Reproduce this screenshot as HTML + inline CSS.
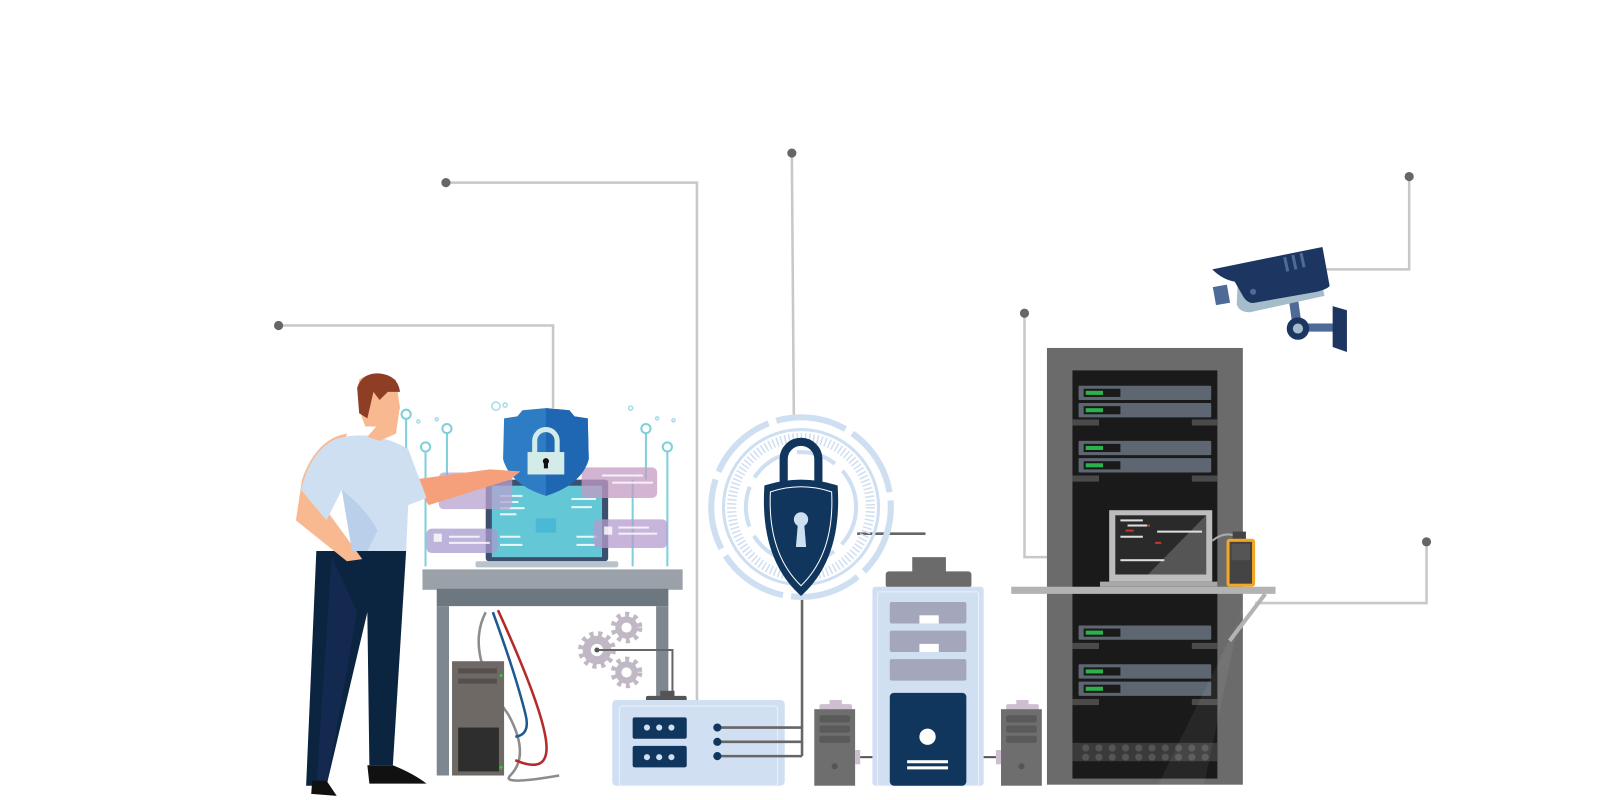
<!DOCTYPE html>
<html><head><meta charset="utf-8"><style>html,body{margin:0;padding:0;background:#fff}svg{display:block}</style></head>
<body>
<svg width="1600" height="800" viewBox="0 0 1568 784" xmlns="http://www.w3.org/2000/svg">
<!-- connector lines -->
<g stroke="#c8c8c8" stroke-width="2.5" fill="none">
<polyline points="273,319 542,319 542,400"/>
<polyline points="437,179 683,179 683,690"/>
<polyline points="776,150 778,412"/>
<polyline points="1004,307 1004,546 1026,546"/>
<polyline points="1381,173 1381,264 1298,264"/>
<polyline points="1398,531 1398,591 1230,591"/>
</g>
<g fill="#666"><circle cx="273" cy="319" r="4.5"/><circle cx="437" cy="179" r="4.5"/><circle cx="776" cy="150" r="4.5"/><circle cx="1004" cy="307" r="4.5"/><circle cx="1381" cy="173" r="4.5"/><circle cx="1398" cy="531" r="4.5"/></g>

<!-- circuit deco -->
<g stroke="#7fd0dc" stroke-width="2" fill="none">
<circle cx="398" cy="406" r="4.5"/><circle cx="417" cy="438" r="4.5"/><circle cx="438" cy="420" r="4.5"/>
<circle cx="633" cy="420" r="4.5"/><circle cx="654" cy="438" r="4.5"/>
<line x1="398" y1="411" x2="398" y2="470"/><line x1="438" y1="425" x2="438" y2="470"/><line x1="633" y1="425" x2="633" y2="470"/><line x1="654" y1="443" x2="654" y2="555"/>
<polyline points="417,443 417,555"/><polyline points="620,470 620,555"/>
</g>
<g fill="none" stroke="#a7dce6" stroke-width="1.5"><circle cx="486" cy="398" r="4"/><circle cx="495" cy="397" r="2"/><circle cx="618" cy="400" r="2"/><circle cx="410" cy="413" r="1.5"/><circle cx="428" cy="411" r="1.5"/><circle cx="644" cy="410" r="1.5"/><circle cx="660" cy="412" r="1.5"/></g>

<!-- laptop -->
<rect x="476" y="470" width="120" height="80" rx="3" fill="#3d4f6e"/>
<rect x="482" y="476" width="108" height="70" fill="#63c7d6"/>
<g fill="#e9f7fa"><rect x="490" y="485" width="22" height="2"/><rect x="490" y="491" width="18" height="2"/><rect x="490" y="497" width="24" height="2"/><rect x="490" y="503" width="16" height="2"/><rect x="490" y="525" width="20" height="2"/><rect x="490" y="533" width="22" height="2"/><rect x="560" y="488" width="24" height="2"/><rect x="560" y="496" width="20" height="2"/><rect x="565" y="525" width="20" height="2"/><rect x="565" y="533" width="18" height="2"/></g>
<rect x="525" y="508" width="20" height="14" fill="#4bb8d6"/>
<rect x="466" y="550" width="140" height="6" rx="2" fill="#b9c3cc"/>
<!-- purple cards -->
<g opacity="0.75"><rect x="430" y="463" width="72" height="36" rx="5" fill="#b7a2cf"/><rect x="418" y="518" width="70" height="24" rx="5" fill="#a99bd0"/><rect x="570" y="458" width="74" height="30" rx="5" fill="#c49cc4"/><rect x="582" y="509" width="72" height="28" rx="5" fill="#b59ccf"/></g>
<g fill="#fff" opacity="0.8"><rect x="425" y="523" width="8" height="8"/><rect x="440" y="525" width="30" height="2"/><rect x="440" y="531" width="40" height="2"/><rect x="590" y="465" width="40" height="2"/><rect x="600" y="472" width="40" height="2"/><rect x="592" y="516" width="8" height="8"/><rect x="606" y="516" width="30" height="2"/><rect x="606" y="522" width="38" height="2"/></g>
<!-- shield -->
<path d="M535,400 L558,402 L563,408 L576,410 L577,450 Q570,475 535,486 Q500,475 493,450 L494,410 L507,408 L512,402 Z" fill="#2d7cc4"/>
<path d="M535,400 L558,402 L563,408 L576,410 L577,450 Q570,475 535,486 Z" fill="#1f67b2"/>
<path d="M524,446 V432 a11,11 0 0 1 22,0 V446" fill="none" stroke="#d3ece9" stroke-width="5"/>
<rect x="517" y="443" width="36" height="22" fill="#d3ece9"/>
<circle cx="535" cy="452" r="3" fill="#111"/><rect x="533" y="452" width="4" height="7" fill="#111"/>

<!-- table -->
<rect x="414" y="558" width="255" height="20" fill="#9aa1a8"/>
<rect x="428" y="577" width="227" height="17" fill="#6d7780"/>
<rect x="428" y="594" width="12" height="166" fill="#7e878f"/>
<rect x="643" y="594" width="12" height="90" fill="#7e878f"/>
<!-- cables -->
<path d="M476,600 Q455,640 498,700 Q520,740 500,760 Q490,770 548,760" fill="none" stroke="#8c8c8c" stroke-width="2.5"/>
<path d="M483,600 Q505,660 515,700 Q520,720 505,722" fill="none" stroke="#1d5a92" stroke-width="2.5"/>
<path d="M488,598 Q530,690 535,725 Q540,760 505,745" fill="none" stroke="#b52a2a" stroke-width="2.5"/>
<!-- pc tower -->
<rect x="443" y="648" width="51" height="112" fill="#6e6965"/>
<rect x="449" y="655" width="38" height="5" fill="#55504d"/><rect x="449" y="665" width="38" height="5" fill="#55504d"/>
<rect x="449" y="713" width="40" height="43" fill="#2e2e2e"/>
<circle cx="491" cy="662" r="1.5" fill="#3c3"/><circle cx="491" cy="752" r="1.5" fill="#3c3"/>

<!-- person -->
<path d="M310,540 L300,770 L320,770 L360,600 L362,750 L385,750 L398,540 Z" fill="#0b2440"/>
<path d="M325,545 L310,770 L320,770 L350,600 Z" fill="#13294f"/>
<path d="M360,750 L362,768 L418,768 Q405,758 385,750 Z" fill="#111"/>
<path d="M306,765 L305,778 L330,780 L320,765 Z" fill="#111"/>
<path d="M340,425 Q310,430 296,470 L290,510 L340,550 L355,548 L320,500 L330,470 Z" fill="#f8b990"/>
<path d="M405,470 L480,460 L510,462 L500,470 L420,495 Z" fill="#f5a07a"/>
<path d="M330,430 Q365,420 400,440 L418,488 L400,495 L398,540 L345,540 L335,480 L320,510 L295,480 Q305,440 330,430 Z" fill="#cfdff2"/>
<path d="M335,480 Q360,500 370,520 L360,540 L345,540 Z" fill="#b9cfea"/>
<path d="M380,405 L392,398 L388,425 L372,432 L360,428 Z" fill="#f8b990"/>
<path d="M352,372 Q365,362 388,372 L392,400 L385,418 L358,418 Q348,395 352,372 Z" fill="#f8b990"/>
<path d="M350,380 Q355,365 372,366 Q390,368 392,384 L380,384 L372,392 L366,384 L360,410 L352,405 Z" fill="#8e3e24"/>

<!-- gears -->
<g fill="#c0b8c4">
<circle cx="585" cy="637" r="14"/><circle cx="614" cy="615" r="11"/><circle cx="614" cy="659" r="11"/>
</g>
<g stroke="#c0b8c4" stroke-width="5" stroke-dasharray="4 4.5"><circle cx="585" cy="637" r="16" fill="none"/><circle cx="614" cy="615" r="13" fill="none"/><circle cx="614" cy="659" r="13" fill="none"/></g>
<g fill="#fff"><circle cx="585" cy="637" r="6"/><circle cx="614" cy="615" r="5"/><circle cx="614" cy="659" r="5"/></g>
<polyline points="585,637 659,637 659,682" fill="none" stroke="#666" stroke-width="2"/>
<circle cx="585" cy="637" r="2.5" fill="#555"/>
<rect x="647" y="677" width="14" height="6" fill="#555"/><rect x="633" y="682" width="40" height="5" rx="2" fill="#555"/>

<!-- device box -->
<rect x="600" y="686" width="169" height="84" rx="4" fill="#d0dff2"/>
<rect x="607" y="692" width="155" height="78" rx="3" fill="none" stroke="#eaf1fb" stroke-width="1"/>
<rect x="620" y="703" width="53" height="21" rx="2" fill="#11365e"/><rect x="620" y="731" width="53" height="21" rx="2" fill="#11365e"/>
<g fill="#d0dff2"><circle cx="634" cy="713" r="3"/><circle cx="646" cy="713" r="3"/><circle cx="658" cy="713" r="3"/><circle cx="634" cy="742" r="3"/><circle cx="646" cy="742" r="3"/><circle cx="658" cy="742" r="3"/></g>
<g stroke="#666" stroke-width="2.5" fill="none"><line x1="703" y1="713" x2="786" y2="713"/><line x1="703" y1="727" x2="786" y2="727"/><line x1="703" y1="741" x2="786" y2="741"/><line x1="786" y1="575" x2="786" y2="741"/>
<polyline points="840,523 907,523 Q910,523 910,530 L910,558"/></g>
<g fill="#11365e"><circle cx="703" cy="713" r="4"/><circle cx="703" cy="727" r="4"/><circle cx="703" cy="741" r="4"/></g>

<!-- lock rings -->
<g fill="none" stroke="#cfdff2">
<circle cx="785" cy="497" r="88" stroke-width="6" stroke-dasharray="70 8"/>
<circle cx="785" cy="497" r="76" stroke-width="3"/>
<circle cx="785" cy="497" r="68" stroke-width="9" stroke-dasharray="1.5 2.5"/>
<circle cx="785" cy="497" r="54" stroke-width="4" stroke-dasharray="40 10"/>
</g>
<path d="M768,478 V450 a17,17 0 0 1 34,0 V478" fill="none" stroke="#11365e" stroke-width="8"/>
<path d="M752,478 Q785,468 818,478 Q822,545 785,580 Q748,545 752,478 Z" fill="#11365e" stroke="#11365e" stroke-width="6"/>
<path d="M755,482 Q785,472 815,482 Q818,542 785,574 Q752,542 755,482 Z" fill="none" stroke="#fff" stroke-width="1"/>
<circle cx="785" cy="509" r="7" fill="#cfdff2"/><path d="M782,512 L788,512 L790,536 L780,536 Z" fill="#cfdff2"/>

<!-- main tower -->
<rect x="894" y="546" width="33" height="16" fill="#6b6b6b"/>
<rect x="868" y="560" width="84" height="16" rx="3" fill="#6b6b6b"/>
<rect x="855" y="575" width="109" height="195" rx="3" fill="#d0dff2"/>
<rect x="860" y="580" width="99" height="190" rx="2" fill="none" stroke="#eaf1fb"/>
<g fill="#a4a6bb"><rect x="872" y="590" width="75" height="21" rx="2"/><rect x="872" y="618" width="75" height="21" rx="2"/><rect x="872" y="646" width="75" height="21" rx="2"/></g>
<g fill="#fff"><rect x="901" y="603" width="19" height="8"/><rect x="901" y="631" width="19" height="8"/></g>
<rect x="872" y="679" width="75" height="91" rx="4" fill="#11365e"/>
<circle cx="909" cy="722" r="8" fill="#fff"/><rect x="889" y="745" width="40" height="3" fill="#fff"/><rect x="889" y="751" width="40" height="3" fill="#fff"/>
<!-- small towers -->
<g>
<rect x="813" y="686" width="12" height="6" fill="#cdbfcf"/><rect x="803" y="690" width="32" height="6" rx="2" fill="#cdbfcf"/>
<rect x="798" y="695" width="40" height="75" fill="#6e6e6e"/>
<rect x="803" y="701" width="30" height="7" rx="2" fill="#5a5a5a"/><rect x="803" y="711" width="30" height="7" rx="2" fill="#5a5a5a"/><rect x="803" y="721" width="30" height="7" rx="2" fill="#5a5a5a"/>
<circle cx="818" cy="751" r="3" fill="#555"/>
<rect x="838" y="735" width="5" height="14" fill="#cdbfcf"/><line x1="843" y1="742" x2="855" y2="742" stroke="#555" stroke-width="2"/>
<rect x="996" y="686" width="12" height="6" fill="#cdbfcf"/><rect x="986" y="690" width="32" height="6" rx="2" fill="#cdbfcf"/>
<rect x="981" y="695" width="40" height="75" fill="#6e6e6e"/>
<rect x="986" y="701" width="30" height="7" rx="2" fill="#5a5a5a"/><rect x="986" y="711" width="30" height="7" rx="2" fill="#5a5a5a"/><rect x="986" y="721" width="30" height="7" rx="2" fill="#5a5a5a"/>
<circle cx="1001" cy="751" r="3" fill="#555"/>
<rect x="976" y="735" width="5" height="14" fill="#cdbfcf"/><line x1="964" y1="742" x2="976" y2="742" stroke="#555" stroke-width="2"/>
</g>

<!-- rack -->
<rect x="1026" y="341" width="192" height="428" fill="#6b6b6b"/>
<rect x="1051" y="363" width="142" height="400" fill="#1b1a1a"/>
<rect x="1057" y="378" width="130" height="14" rx="1" fill="#5e6672"/><rect x="1062" y="381" width="36" height="8" fill="#1b1a1a"/><rect x="1064" y="383" width="17" height="4" fill="#2bb24c"/>
<g fill="#5e6672">
<rect x="1057" y="395" width="130" height="14" rx="1"/><rect x="1057" y="432" width="130" height="14" rx="1"/><rect x="1057" y="449" width="130" height="14" rx="1"/>
<rect x="1057" y="613" width="130" height="14" rx="1"/><rect x="1057" y="651" width="130" height="14" rx="1"/><rect x="1057" y="668" width="130" height="14" rx="1"/>
</g>
<g fill="#1b1a1a"><rect x="1062" y="398" width="36" height="8"/><rect x="1062" y="435" width="36" height="8"/><rect x="1062" y="452" width="36" height="8"/><rect x="1062" y="616" width="36" height="8"/><rect x="1062" y="654" width="36" height="8"/><rect x="1062" y="671" width="36" height="8"/></g>
<g fill="#2bb24c"><rect x="1064" y="400" width="17" height="4"/><rect x="1064" y="437" width="17" height="4"/><rect x="1064" y="454" width="17" height="4"/><rect x="1064" y="618" width="17" height="4"/><rect x="1064" y="656" width="17" height="4"/><rect x="1064" y="673" width="17" height="4"/></g>
<g fill="#4a4a4a"><rect x="1051" y="411" width="26" height="6"/><rect x="1168" y="411" width="25" height="6"/><rect x="1051" y="466" width="26" height="6"/><rect x="1168" y="466" width="25" height="6"/><rect x="1051" y="630" width="26" height="6"/><rect x="1168" y="630" width="25" height="6"/><rect x="1051" y="685" width="26" height="6"/><rect x="1168" y="685" width="25" height="6"/></g>
<rect x="1051" y="728" width="142" height="18" fill="#3a3a3a"/>
<g fill="#555"><circle cx="1064" cy="733" r="3.5"/><circle cx="1077" cy="733" r="3.5"/><circle cx="1090" cy="733" r="3.5"/><circle cx="1103" cy="733" r="3.5"/><circle cx="1116" cy="733" r="3.5"/><circle cx="1129" cy="733" r="3.5"/><circle cx="1142" cy="733" r="3.5"/><circle cx="1155" cy="733" r="3.5"/><circle cx="1168" cy="733" r="3.5"/><circle cx="1181" cy="733" r="3.5"/>
<circle cx="1064" cy="742" r="3.5"/><circle cx="1077" cy="742" r="3.5"/><circle cx="1090" cy="742" r="3.5"/><circle cx="1103" cy="742" r="3.5"/><circle cx="1116" cy="742" r="3.5"/><circle cx="1129" cy="742" r="3.5"/><circle cx="1142" cy="742" r="3.5"/><circle cx="1155" cy="742" r="3.5"/><circle cx="1168" cy="742" r="3.5"/><circle cx="1181" cy="742" r="3.5"/></g>
<path d="M1218,590 L1218,600 L1135,769 L1180,769 Z" fill="#fff" opacity="0.06"/>
<!-- laptop on shelf -->
<rect x="1087" y="500" width="101" height="70" fill="#bdbdbd"/>
<rect x="1093" y="505" width="89" height="58" fill="#2a2a2a"/>
<path d="M1182,505 L1182,563 L1125,563 Z" fill="#555"/>
<g fill="#ddd"><rect x="1098" y="509" width="22" height="2"/><rect x="1105" y="514" width="22" height="2"/><rect x="1134" y="520" width="44" height="2"/><rect x="1098" y="525" width="22" height="2"/><rect x="1098" y="548" width="43" height="2"/></g>
<g fill="#c0392b"><rect x="1124" y="514" width="3" height="2"/><rect x="1103" y="519" width="8" height="2"/><rect x="1132" y="531" width="6" height="2"/></g>
<rect x="1078" y="570" width="115" height="5" fill="#a8a8a8"/>
<path d="M1188,530 Q1200,520 1213,526" fill="none" stroke="#aaa" stroke-width="2"/>
<rect x="1208" y="521" width="13" height="8" fill="#444"/>
<rect x="1202" y="528" width="28" height="47" rx="3" fill="#f5a623"/>
<rect x="1205" y="531" width="22" height="41" fill="#444"/><rect x="1207" y="533" width="18" height="16" fill="#555"/>
<rect x="991" y="575" width="259" height="7" fill="#b3b3b3"/>
<line x1="1240" y1="582" x2="1205" y2="628" stroke="#b3b3b3" stroke-width="4"/>

<!-- camera -->
<rect x="1264" y="290" width="9" height="26" fill="#4e6b97" transform="rotate(-8 1268 300)"/>
<rect x="1275" y="317" width="32" height="8" fill="#4e6b97"/>
<path d="M1306,300 L1320,304 L1320,345 L1306,340 Z" fill="#1c3561"/>
<circle cx="1272" cy="322" r="11" fill="#1c3561"/><circle cx="1272" cy="322" r="5" fill="#a5bccb"/>
<path d="M1213,275 L1292,262 L1298,290 L1225,306 Q1214,306 1212,298 Z" fill="#a5bccb"/>
<rect x="1190" y="280" width="14" height="18" fill="#4e6b97" transform="rotate(-10 1197 289)"/>
<path d="M1188,264 L1296,242 L1303,280 Q1302,283 1290,286 L1228,297 Q1222,297 1218,290 L1210,276 Q1198,274 1188,264 Z" fill="#1c3561"/>
<circle cx="1228" cy="286" r="3" fill="#4e6b97"/>
<g stroke="#4e6b97" stroke-width="3"><line x1="1259" y1="252" x2="1262" y2="266"/><line x1="1267" y1="250" x2="1270" y2="264"/><line x1="1275" y1="248" x2="1278" y2="262"/></g>
</svg>
</body></html>
